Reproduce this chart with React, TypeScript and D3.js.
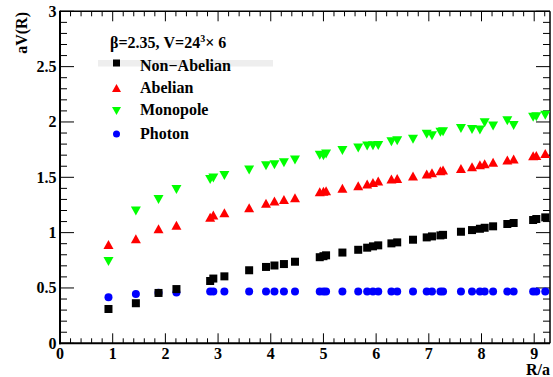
import React from "react";
import * as d3 from "d3";

const R = [0.92, 1.44, 1.87, 2.21, 2.85, 2.91, 3.12, 3.59, 3.91, 4.07, 4.25, 4.46, 4.93, 5.0, 5.05, 5.36, 5.66, 5.83, 5.94, 6.04, 6.29, 6.40, 6.70, 6.96, 7.06, 7.22, 7.27, 7.61, 7.82, 7.97, 8.06, 8.22, 8.49, 8.61, 8.98, 9.04, 9.21];
const nonAbelian = [0.31, 0.362, 0.455, 0.49, 0.563, 0.585, 0.605, 0.66, 0.69, 0.703, 0.716, 0.737, 0.778, 0.787, 0.795, 0.82, 0.845, 0.864, 0.876, 0.885, 0.903, 0.912, 0.936, 0.957, 0.966, 0.975, 0.98, 1.008, 1.023, 1.035, 1.044, 1.057, 1.078, 1.087, 1.114, 1.123, 1.138];
const abelian = [0.892, 0.945, 1.035, 1.066, 1.138, 1.159, 1.18, 1.225, 1.265, 1.285, 1.3, 1.315, 1.37, 1.375, 1.379, 1.4, 1.424, 1.439, 1.454, 1.466, 1.484, 1.49, 1.511, 1.529, 1.541, 1.559, 1.565, 1.58, 1.595, 1.613, 1.622, 1.635, 1.656, 1.665, 1.695, 1.698, 1.716];
const monopole = [0.74, 1.195, 1.3, 1.39, 1.48, 1.493, 1.517, 1.565, 1.605, 1.614, 1.632, 1.656, 1.7, 1.695, 1.71, 1.743, 1.764, 1.782, 1.785, 1.788, 1.821, 1.83, 1.843, 1.888, 1.876, 1.906, 1.912, 1.942, 1.933, 1.927, 1.993, 1.963, 2.011, 1.969, 2.042, 2.047, 2.06];
const photon = [0.415, 0.445, 0.457, 0.46, 0.467, 0.467, 0.467, 0.467, 0.467, 0.467, 0.467, 0.467, 0.467, 0.467, 0.467, 0.467, 0.467, 0.467, 0.467, 0.467, 0.467, 0.467, 0.467, 0.467, 0.467, 0.467, 0.467, 0.467, 0.467, 0.467, 0.467, 0.467, 0.467, 0.467, 0.467, 0.467, 0.467];

const xTickLabels = ["0", "1", "2", "3", "4", "5", "6", "7", "8", "9"];
const yTickLabels = ["0", "0.5", "1", "1.5", "2", "2.5", "3"];
const legendLabels = ["Non\u2212Abelian", "Abelian", "Monopole", "Photon"];

const W = 553, H = 377;
const L = 60, Rt = 550, T = 11.3, B = 343.3;
const FONT = "Liberation Serif, DejaVu Serif, serif";
const tStyle: React.CSSProperties = { fontFamily: FONT, fontWeight: "bold" };

type Shape = "square" | "up" | "down" | "circle";

function Marker({ shape, x, y, s, color }: { shape: Shape; x: number; y: number; s: number; color: string }) {
  if (shape === "square") return <rect x={x - s / 2} y={y - s / 2} width={s} height={s} fill={color} />;
  if (shape === "circle") return <circle cx={x} cy={y} r={s / 2} fill={color} />;
  const h = s * 0.9;
  if (shape === "up")
    return <path d={`M${x - s / 2},${y + h / 2}L${x + s / 2},${y + h / 2}L${x},${y - h / 2}Z`} fill={color} />;
  return <path d={`M${x - s / 2},${y - h / 2}L${x + s / 2},${y - h / 2}L${x},${y + h / 2}Z`} fill={color} />;
}

export default function App() {
  const x = d3.scaleLinear().domain([0, 9.3]).range([L, Rt]);
  const y = d3.scaleLinear().domain([0, 3]).range([B, T]);

  const xMajor = d3.range(0, 10);
  const xMinor = d3.range(0, 47).map((i) => i * 0.2).filter((v) => v <= 9.3 && Math.abs(v - Math.round(v)) > 1e-6);
  const yMajor = d3.range(0, 7).map((i) => i * 0.5);
  const yMinor = d3.range(0, 31).map((i) => i * 0.1).filter((v) => Math.abs(v * 2 - Math.round(v * 2)) > 1e-6);

  const series: { vals: number[]; shape: Shape; color: string; size: number }[] = [
    { vals: photon, shape: "circle", color: "#0000ff", size: 8 },
    { vals: nonAbelian, shape: "square", color: "#000000", size: 8 },
    { vals: abelian, shape: "up", color: "#ff0000", size: 10 },
    { vals: monopole, shape: "down", color: "#00ff00", size: 10 },
  ];

  const legendShapes: Shape[] = ["square", "up", "down", "circle"];
  const legendColors = ["#000000", "#ff0000", "#00ff00", "#0000ff"];
  const legendMarkerY = [63, 88, 111, 134];
  const legendBaseline = [70.7, 92.9, 115.3, 138.8];

  return (
    <div style={{ position: "fixed", left: 0, top: 0 }}>
      <svg width={W} height={H} style={{ display: "block", background: "#fff" }}>
        <rect x={0} y={0} width={W} height={H} fill="#fff" />
        {/* legend band */}
        <rect x={98} y={60} width={175} height={6.5} fill="#eeeeee" />

        {/* ticks */}
        <g stroke="#000" strokeWidth={1}>
          {xMajor.map((v) => (
            <g key={"xm" + v}>
              <line x1={x(v)} x2={x(v)} y1={B} y2={B - 10} />
              <line x1={x(v)} x2={x(v)} y1={T} y2={T + 10} />
            </g>
          ))}
          {xMinor.map((v, i) => (
            <g key={"xn" + i}>
              <line x1={x(v)} x2={x(v)} y1={B} y2={B - 5} />
              <line x1={x(v)} x2={x(v)} y1={T} y2={T + 5} />
            </g>
          ))}
          {yMajor.map((v) => (
            <g key={"ym" + v}>
              <line x1={L} x2={L + 14} y1={y(v)} y2={y(v)} />
              <line x1={Rt} x2={Rt - 14} y1={y(v)} y2={y(v)} />
            </g>
          ))}
          {yMinor.map((v, i) => (
            <g key={"yn" + i}>
              <line x1={L} x2={L + 7} y1={y(v)} y2={y(v)} />
              <line x1={Rt} x2={Rt - 7} y1={y(v)} y2={y(v)} />
            </g>
          ))}
        </g>

        {/* frame */}
        <line x1={L} x2={Rt} y1={T} y2={T} stroke="#000" strokeWidth={1.5} />
        <line x1={Rt} x2={Rt} y1={T} y2={B} stroke="#000" strokeWidth={1.5} />
        <line x1={L} x2={L} y1={T - 0.5} y2={B + 1} stroke="#000" strokeWidth={2} />
        <line x1={L - 1} x2={Rt} y1={B} y2={B} stroke="#000" strokeWidth={2} />

        {/* tick labels */}
        {xTickLabels.map((t, i) => (
          <text key={"xl" + t} x={x(i)} y={359} fontSize={16} textAnchor="middle" style={tStyle}>{t}</text>
        ))}
        {yTickLabels.map((t, i) => (
          <text key={"yl" + t} x={56.5} y={y(yMajor[i]) + 5.5} fontSize={16} textAnchor="end" style={tStyle}>{t}</text>
        ))}

        {/* axis titles */}
        <text x={550} y={375} fontSize={16} textAnchor="end" style={tStyle}>R/a</text>
        <text transform="translate(27,12) rotate(-90)" fontSize={16} textAnchor="end" style={tStyle}>aV(R)</text>

        {/* data */}
        {series.map((s, si) => (
          <g key={"s" + si}>
            {s.vals.map((v, i) => (
              <Marker key={i} shape={s.shape} x={x(R[i])} y={y(v)} s={s.size} color={s.color} />
            ))}
          </g>
        ))}

        {/* legend */}
        <text x={110} y={48.3} fontSize={16} style={tStyle}>
          {"\u03b2=2.35, V=24"}
          <tspan fontSize={10} dy={-6}>3</tspan>
          <tspan dy={6}>{"\u00d7 6"}</tspan>
        </text>
        {legendLabels.map((lab, i) => (
          <g key={"lg" + i}>
            <Marker shape={legendShapes[i]} x={116.5} y={legendMarkerY[i]} s={legendShapes[i] === "square" || legendShapes[i] === "circle" ? 7 : 9} color={legendColors[i]} />
            <text x={140} y={legendBaseline[i]} fontSize={16} style={tStyle}>{lab}</text>
          </g>
        ))}
      </svg>
    </div>
  );
}
